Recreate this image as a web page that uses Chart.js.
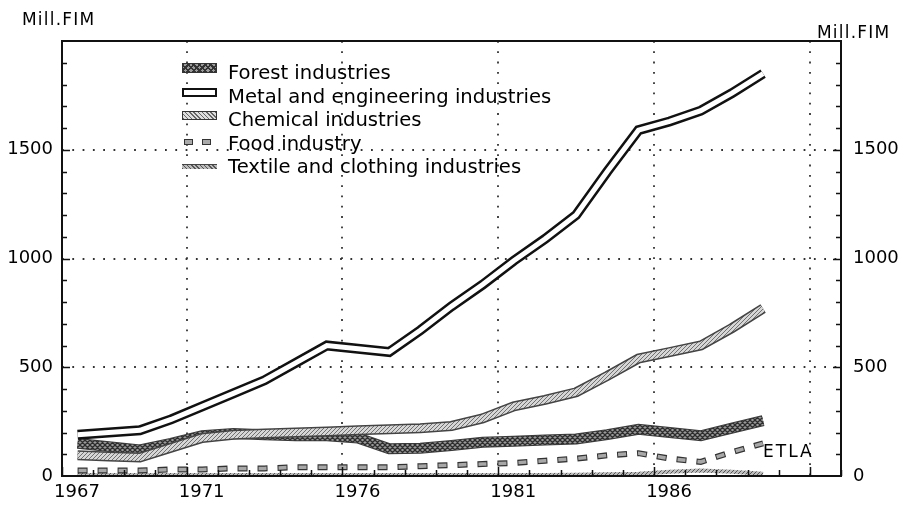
<!DOCTYPE html>
<html>
<head>
<meta charset="utf-8">
<script src="https://cdn.jsdelivr.net/npm/chart.js@4.4.1/dist/chart.umd.min.js"></script>
<style>
  html, body { margin: 0; padding: 0; background: #fff; }
  #wrap { position: relative; width: 900px; height: 510px; font-family: "DejaVu Sans", sans-serif; color: #000; }
  #chart { position: absolute; left: 0; top: 0; }
  .unit { position: absolute; font-size: 17px; letter-spacing: 1.2px; line-height: 20px; }
  #etla { position: absolute; left: 763px; top: 440px; font-size: 17px; letter-spacing: 2px; line-height: 22px; }
  #legend { position: absolute; left: 182px; top: 61px; font-size: 19.6px; }
  .row { position: relative; height: 23.5px; line-height: 23.5px; padding-left: 46px; white-space: nowrap; }
  .sw { position: absolute; left: 0; width: 35px; box-sizing: border-box; }
  .sw.forest { top: 2px; height: 10px; border: 1px solid #333;
    background: repeating-linear-gradient(45deg, #333 0 1.5px, transparent 1.5px 4px),
                repeating-linear-gradient(-45deg, #333 0 1.5px, #9a9a9a 1.5px 4px); }
  .sw.metal { top: 3px; height: 9px; border: 2px solid #111; background: #fff; }
  .sw.chem { top: 3px; height: 9px; border: 1.5px solid #333;
    background: repeating-linear-gradient(45deg, #666 0 1px, #ddd 1px 3px); }
  .sw.food { top: 7px; height: 7px; }
  .sw.food span { position: absolute; top: 0; width: 9px; height: 6px; box-sizing: border-box; border: 1px solid #333; background: #aaa; }
  .sw.tex { top: 9px; height: 5px; border-top: 1px solid #444;
    background: repeating-linear-gradient(45deg, #555 0 1px, #bbb 1px 3px); }
</style>
</head>
<body>
<div id="wrap">
  <canvas id="chart" width="900" height="510"></canvas>
  <div class="unit" style="left:22px; top:9px;">Mill.FIM</div>
  <div class="unit" style="left:817px; top:22px;">Mill.FIM</div>
  <div id="etla">ETLA</div>
  <div id="legend">
    <div class="row"><span class="sw forest"></span>Forest industries</div>
    <div class="row"><span class="sw metal"></span>Metal and engineering industries</div>
    <div class="row"><span class="sw chem"></span>Chemical industries</div>
    <div class="row"><span class="sw food"><span style="left:2px"></span><span style="left:20px"></span></span>Food industry</div>
    <div class="row"><span class="sw tex"></span>Textile and clothing industries</div>
  </div>
</div>
<script>
// values in Mill.FIM, one per year (plotted at mid-year)
const years = [1967, 1968, 1969, 1970, 1971, 1972, 1973, 1974, 1975, 1976, 1977, 1978,
               1979, 1980, 1981, 1982, 1983, 1984, 1985, 1986, 1987, 1988, 1989];
const forest   = [150, 135, 120, 150, 185, 195, 190, 185, 185, 175, 125, 128,
                  140, 155, 160, 165, 170, 190, 215, 200, 185, 220, 255];
const metal    = [190, 200, 210, 260, 320, 380, 440, 520, 600, 585, 570, 670,
                  780, 880, 990, 1090, 1200, 1400, 1590, 1630, 1680, 1760, 1850];
const chemical = [95, 90, 85, 130, 175, 190, 195, 200, 205, 210, 215, 220,
                  230, 265, 320, 350, 385, 460, 540, 570, 600, 680, 770];
const food     = [25, 25, 25, 30, 30, 35, 35, 40, 40, 40, 40, 45,
                  50, 55, 60, 70, 80, 95, 105, 80, 65, 110, 150];
const textile  = [5, 5, 5, 5, 5, 5, 5, 5, 5, 5, 5, 5,
                  5, 5, 5, 5, 6, 8, 10, 20, 25, 20, 10];

const xLabelYears = [1967, 1971, 1976, 1981, 1986];
const xGridYears = [1971, 1976, 1981, 1986, 1991];
const yLabelValues = [0, 500, 1000, 1500];
const yGridValues = [500, 1000, 1500];

const canvas = document.getElementById("chart");
const cctx = canvas.getContext("2d");

function hatch(bg, fg, size, lw, cross) {
  const c = document.createElement("canvas");
  c.width = c.height = size;
  const g = c.getContext("2d");
  g.fillStyle = bg;
  g.fillRect(0, 0, size, size);
  g.strokeStyle = fg;
  g.lineWidth = lw;
  g.beginPath();
  for (const k of [0, size, 2 * size]) { g.moveTo(k, 0); g.lineTo(k - size, size); }
  if (cross) {
    for (const k of [-size, 0, size]) { g.moveTo(k, 0); g.lineTo(k + size, size); }
  }
  g.stroke();
  return cctx.createPattern(c, "repeat");
}

const forestFill = hatch("#9a9a9a", "#2e2e2e", 5, 1.3, true);
const chemFill = hatch("#d6d6d6", "#707070", 4, 1, false);
const texFill = hatch("#bdbdbd", "#555", 4, 1, false);

const pts = vals => years.map((yr, i) => ({ x: yr + 0.5, y: vals[i] }));

function line(vals, color, width, order, extra) {
  return Object.assign({
    data: pts(vals),
    borderColor: color,
    borderWidth: width,
    pointRadius: 0,
    tension: 0,
    fill: false,
    clip: false,
    order: order
  }, extra || {});
}

const framePlugin = {
  id: "frame",
  beforeDatasetsDraw(chart) {
    const { ctx, chartArea: a, scales: { x, y } } = chart;
    ctx.save();
    ctx.strokeStyle = "#333";
    ctx.lineWidth = 1.8;
    ctx.setLineDash([1.8, 8.5]);
    ctx.beginPath();
    xGridYears.forEach(v => {
      const px = Math.round(x.getPixelForValue(v));
      ctx.moveTo(px, a.top);
      ctx.lineTo(px, a.bottom);
    });
    yGridValues.forEach(v => {
      const py = Math.round(y.getPixelForValue(v));
      ctx.moveTo(a.left, py);
      ctx.lineTo(a.right, py);
    });
    ctx.stroke();
    ctx.restore();
  },
  afterDatasetsDraw(chart) {
    const { ctx, chartArea: a, scales: { x, y } } = chart;
    ctx.save();
    ctx.strokeStyle = "#111";
    ctx.lineWidth = 1.5;
    ctx.beginPath();
    for (let v = 1967; v <= 1992; v++) {
      const px = Math.round(x.getPixelForValue(v)) + 0.5;
      const len = xGridYears.includes(v) || xLabelYears.includes(v) ? 9 : 6;
      ctx.moveTo(px, a.bottom);
      ctx.lineTo(px, a.bottom - len);
    }
    for (let v = 100; v < 2000; v += 100) {
      const py = Math.round(y.getPixelForValue(v)) + 0.5;
      const len = v % 500 === 0 ? 8 : 5;
      ctx.moveTo(a.left, py);
      ctx.lineTo(a.left + len, py);
      ctx.moveTo(a.right, py);
      ctx.lineTo(a.right - len, py);
    }
    ctx.stroke();
    ctx.lineWidth = 2;
    ctx.strokeRect(a.left, a.top, a.right - a.left, a.bottom - a.top);
    ctx.restore();
  }
};

const tickFont = { family: "DejaVu Sans", size: 18 };
const yTicks = {
  stepSize: 100,
  color: "#000",
  font: tickFont,
  autoSkip: false,
  callback: v => (yLabelValues.includes(v) ? String(v) : "")
};

new Chart(canvas, {
  type: "line",
  data: {
    datasets: [
      line(metal, "#fff", 5, 1),
      line(metal, "#111", 10, 2),
      line(chemical, chemFill, 7, 3),
      line(chemical, "#444", 10, 4),
      line(forest, forestFill, 9, 5),
      line(forest, "#3a3a3a", 11, 6),
      line(food, "#a8a8a8", 3.5, 7, { borderDash: [8, 12], borderDashOffset: -1 }),
      line(food, "#333", 6, 8, { borderDash: [10, 10] }),
      line(textile, texFill, 4, 9)
    ]
  },
  options: {
    responsive: false,
    animation: false,
    events: [],
    layout: { padding: { top: 41, left: 0, right: 0, bottom: 0 } },
    plugins: { legend: { display: false }, tooltip: { enabled: false } },
    scales: {
      x: {
        type: "linear",
        min: 1967,
        max: 1992,
        afterBuildTicks: s => {
          s.ticks = [];
          for (let v = 1967; v <= 1992; v++) s.ticks.push({ value: v });
        },
        afterFit: s => { s.height = 34; },
        grid: { display: false, drawTicks: false },
        border: { display: false },
        ticks: {
          autoSkip: false,
          maxRotation: 0,
          labelOffset: 15,
          padding: 6,
          color: "#000",
          font: tickFont,
          callback: v => (xLabelYears.includes(v) ? String(v) : "")
        }
      },
      y: {
        position: "left",
        min: 0,
        max: 2000,
        afterFit: s => { s.width = 62; },
        grid: { display: false, drawTicks: false },
        border: { display: false },
        ticks: Object.assign({ padding: 9 }, yTicks)
      },
      y2: {
        position: "right",
        min: 0,
        max: 2000,
        afterFit: s => { s.width = 59; },
        grid: { display: false, drawTicks: false },
        border: { display: false },
        ticks: Object.assign({ padding: 12 }, yTicks)
      }
    }
  },
  plugins: [framePlugin]
});
</script>
</body>
</html>
